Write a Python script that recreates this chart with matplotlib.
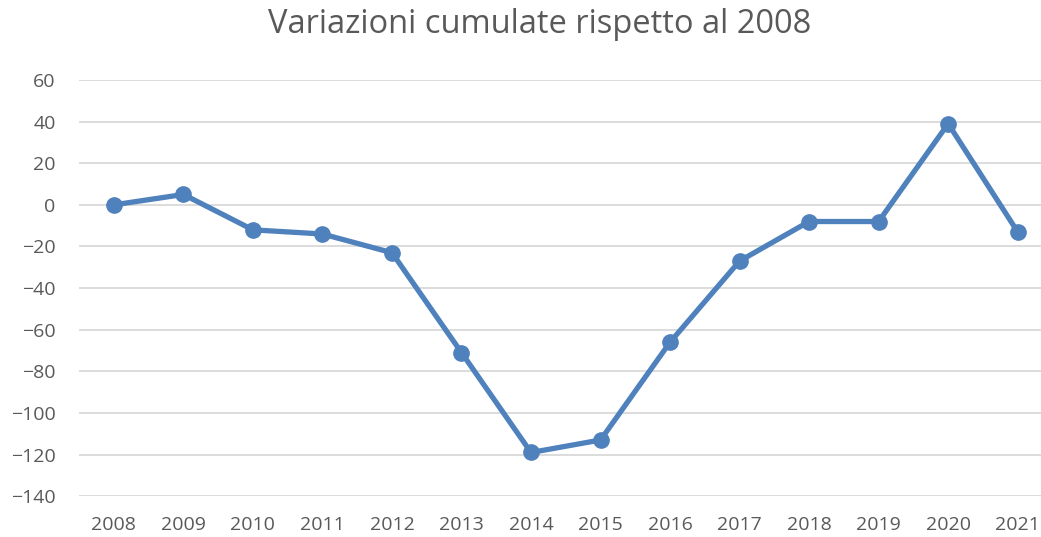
import matplotlib.pyplot as plt

years = ["2008", "2009", "2010", "2011", "2012", "2013", "2014",
         "2015", "2016", "2017", "2018", "2019", "2020", "2021"]
values = [0, 5, -12, -14, -23, -71, -119, -113, -66, -27, -8, -8, 39, -13]
y_ticks = [-140, -120, -100, -80, -60, -40, -20, 0, 20, 40, 60]

plt.rcParams['font.family'] = ['Open Sans', 'DejaVu Sans']

fig = plt.figure(figsize=(10.41, 5.37), dpi=100)
# plot area runs a little past the right edge, as in the cropped original
ax = fig.add_axes([0.076, 0.076, 0.935, 0.775])

x = list(range(len(years)))
ax.plot(x, values, color='#4F81BD', linewidth=3.8, marker='o', markersize=11, zorder=3)

ax.set_xlim(-0.5, len(years) - 0.5)
ax.set_ylim(-140, 60)
ax.set_yticks(y_ticks)
ax.set_xticks(x)
ax.set_xticklabels(years)
ax.yaxis.grid(True, color='#D9D9D9', linewidth=1.3)
ax.set_axisbelow(True)
for s in ax.spines.values():
    s.set_visible(False)
ax.tick_params(length=0, labelsize=14, colors='#595959')
ax.tick_params(axis='x', pad=14)
ax.tick_params(axis='y', pad=17)

fig.text(0.518, 0.955, "Variazioni cumulate rispetto al 2008", ha='center', va='center',
         fontsize=23.5, color='#595959')

fig.savefig("out.png", dpi=100)
